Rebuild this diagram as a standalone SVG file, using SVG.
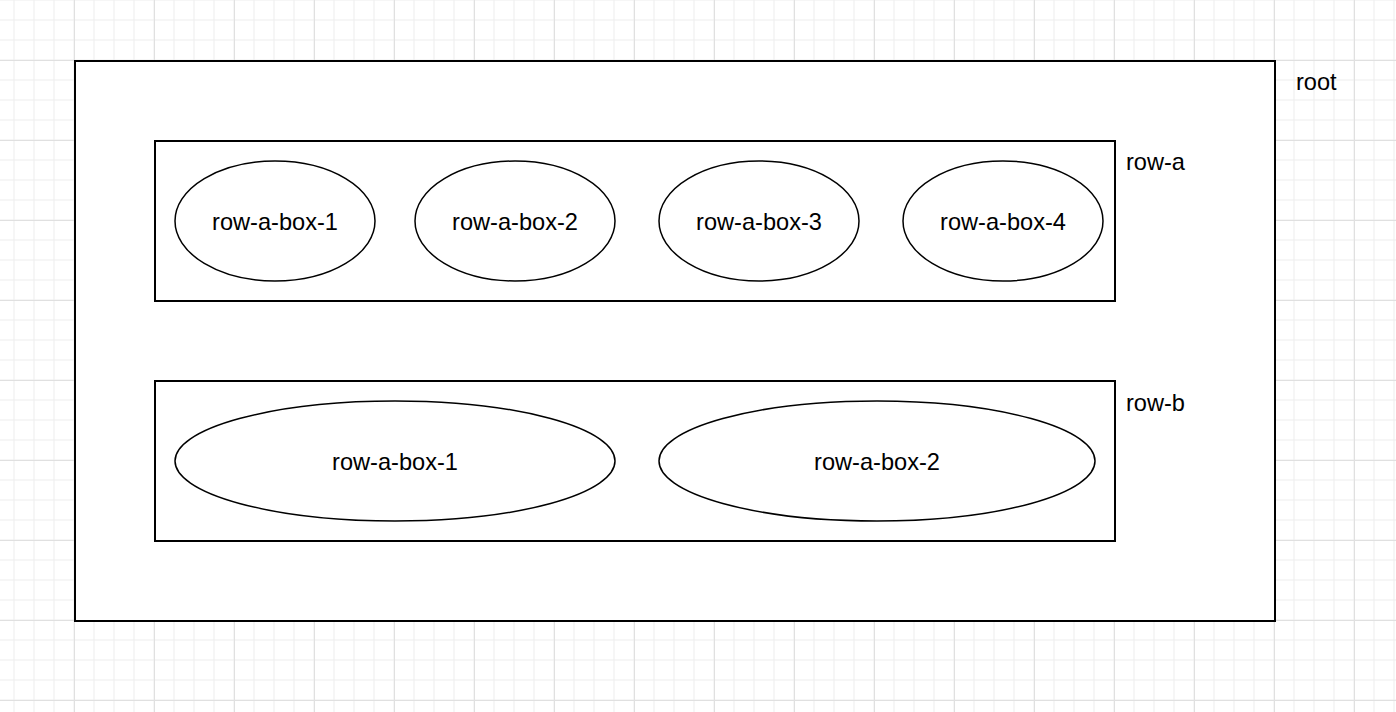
<svg xmlns="http://www.w3.org/2000/svg" width="1396" height="712" viewBox="0 0 1396 712">
  <defs>
    <pattern id="gridMinor" patternUnits="userSpaceOnUse" x="4" y="-10" width="20" height="20">
      <path d="M10 0V20M0 10H20" stroke="#ededed" stroke-width="1" fill="none"/>
    </pattern>
    <pattern id="gridMajor" patternUnits="userSpaceOnUse" x="34" y="20" width="80" height="80">
      <path d="M40.5 0V80M0 40.5H80" stroke="#e0e0e0" stroke-width="1" fill="none"/>
    </pattern>
  </defs>
  <style>
    .box { fill: #ffffff; stroke: #000000; stroke-width: 2; }
    .ell { fill: #ffffff; stroke: #000000; stroke-width: 1.5; }
    .lbl { font-family: "Liberation Sans", Arial, Helvetica, sans-serif; font-size: 23.6px; fill: #000000; }
    .mid { text-anchor: middle; }
  </style>
  <rect x="0" y="0" width="1396" height="712" fill="#ffffff"/>
  <rect x="0" y="0" width="1396" height="712" fill="url(#gridMinor)"/>
  <rect x="0" y="0" width="1396" height="712" fill="url(#gridMajor)"/>

  <g id="root">
    <rect class="box" x="75" y="61" width="1200" height="560"/>
    <text class="lbl" x="1296" y="90">root</text>
  </g>

  <g id="row-a">
    <rect class="box" x="155" y="141" width="960" height="160"/>
    <text class="lbl" x="1126" y="170">row-a</text>
  </g>
  <g id="row-a-box-1">
    <ellipse class="ell" cx="275" cy="221" rx="100" ry="60"/>
    <text class="lbl mid" x="275" y="230">row-a-box-1</text>
  </g>
  <g id="row-a-box-2">
    <ellipse class="ell" cx="515" cy="221" rx="100" ry="60"/>
    <text class="lbl mid" x="515" y="230">row-a-box-2</text>
  </g>
  <g id="row-a-box-3">
    <ellipse class="ell" cx="759" cy="221" rx="100" ry="60"/>
    <text class="lbl mid" x="759" y="230">row-a-box-3</text>
  </g>
  <g id="row-a-box-4">
    <ellipse class="ell" cx="1003" cy="221" rx="100" ry="60"/>
    <text class="lbl mid" x="1003" y="230">row-a-box-4</text>
  </g>

  <g id="row-b">
    <rect class="box" x="155" y="381" width="960" height="160"/>
    <text class="lbl" x="1126" y="411">row-b</text>
  </g>
  <g id="row-b-box-1">
    <ellipse class="ell" cx="395" cy="461" rx="220" ry="60"/>
    <text class="lbl mid" x="395" y="470">row-a-box-1</text>
  </g>
  <g id="row-b-box-2">
    <ellipse class="ell" cx="877" cy="461" rx="218" ry="60"/>
    <text class="lbl mid" x="877" y="470">row-a-box-2</text>
  </g>

  <g id="connectors"/>
</svg>
